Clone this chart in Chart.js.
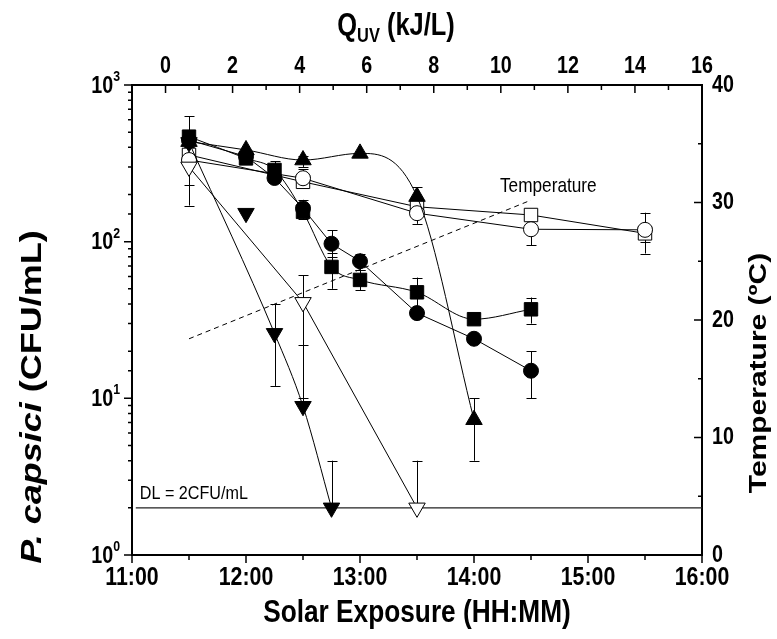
<!DOCTYPE html>
<html>
<head>
<meta charset="utf-8">
<script src="https://cdn.jsdelivr.net/npm/chart.js@4.4.1/dist/chart.umd.min.js"></script>
<style>
  html, body { margin: 0; padding: 0; background: #fff; }
  #wrap { width: 777px; height: 639px; }
</style>
</head>
<body>
<div id="wrap"><canvas id="chart" width="777" height="639"></canvas></div>
<script>
// Sampling times (HH:MM) and P. capsici counts (CFU/mL), error bars as [low, high]
const filledCircleTimes = ["11:30", "12:00", "12:15", "12:30", "12:45", "13:00", "13:30", "14:00", "14:30"];
const filledCircleValues = [445, 350, 255, 163, 97, 75, 35, 24, 15];
const filledCircleErrors = [[400, 630], null, null, [145, 185], [80, 118], [66, 84], null, null, [10, 20]];

const filledSquareTimes = ["11:30", "12:00", "12:15", "12:30", "12:45", "13:00", "13:30", "14:00", "14:30"];
const filledSquareValues = [468, 340, 287, 155, 69, 57, 47.5, 32, 37];
const filledSquareErrors = [null, null, [250, 325], [140, 175], [50, 85], [49, 66], [38, 59], null, [30, 44]];

const filledUpTimes = ["11:30", "12:00", "12:30", "13:00", "13:30", "14:00"];
const filledUpValues = [435, 385, 332, 366, 194, 7.3];
const filledUpErrors = [null, null, [300, 350], null, [170, 222], [4, 10]];

const filledDownTimes = ["11:30", "12:00", "12:15", "12:30", "12:45"];
const filledDownValues = [430, 152, 26, 8.9, 2];
const filledDownErrors = [null, null, [12, 40], [8.9, 22], [2, 4]];
const filledDownOnCurve = [true, false, true, true, true];

const openDownTimes = ["11:30", "12:30", "13:30"];
const openDownValues = [300, 41, 2];
const openDownErrors = [[170, 300], [10, 61], [2, 4]];

const openCircleTimes = ["11:30", "12:30", "13:30", "14:30", "15:30"];
const openCircleValues = [332, 254, 152, 120, 119];
const openCircleErrors = [null, [225, 290], [130, 175], [95, 120], [84, 153]];

const openSquareTimes = ["11:30", "12:30", "13:30", "14:30", "15:30"];
const openSquareValues = [358, 241, 167, 148, 113];
const openSquareErrors = [[230, 400], null, null, [120, 160], [100, 113]];

// Water temperature (ºC)
const temperatureTimes = ["11:30", "14:30"];
const temperatureValues = [18.4, 30.2];

// Detection limit (CFU/mL)
const dlValue = 2;
const dlTimes = ["11:02", "16:00"];

// Axis labels
const xTicksMajor = ["11:00", "12:00", "13:00", "14:00", "15:00", "16:00"];
const quvTicks = [0, 2, 4, 6, 8, 10, 12, 14, 16];
const tempTicks = [0, 10, 20, 30, 40];
const logTicks = [1, 10, 100, 1000];

const FONT = "'Liberation Sans', Arial, sans-serif";
const SX = 0.82; // text in the figure is horizontally condensed

function toHours(t) {
	const [h, m] = t.split(":").map(Number);
	return h + m / 60;
}

function points(times, values) {
	return times.map((t, i) => ({ x: toHours(t), y: values[i] }));
}

function series(label, times, values, errors, marker, extra) {
	return Object.assign({
		label: label,
		data: points(times, values),
		errorBars: errors,
		xAxisID: "x",
		yAxisID: "y",
		borderColor: "#000",
		borderWidth: 1,
		backgroundColor: marker.fill,
		pointStyle: marker.shape,
		pointRotation: marker.rotation || 0,
		pointRadius: marker.radius,
		pointHoverRadius: marker.radius,
		pointBackgroundColor: marker.fill,
		pointBorderColor: "#000",
		pointBorderWidth: 1,
		tension: 0,
		fill: false,
	}, extra || {});
}

const circleFilled = { shape: "circle", radius: 7.5, fill: "#000" };
const squareFilled = { shape: "rect", radius: 9.5, fill: "#000" };
const upFilled = { shape: "triangle", radius: 9.5, fill: "#000" };
const downFilled = { shape: "triangle", radius: 9.5, fill: "#000", rotation: 180 };
const downOpen = { shape: "triangle", radius: 9.5, fill: "#fff", rotation: 180 };
const circleOpen = { shape: "circle", radius: 7.5, fill: "#fff" };
const squareOpen = { shape: "rect", radius: 9.5, fill: "#fff" };

function drawText(ctx, text, x, y, font, align, baseline, sx) {
	ctx.save();
	ctx.translate(x, y);
	ctx.scale(sx, 1);
	ctx.font = font;
	ctx.textAlign = align;
	ctx.textBaseline = baseline;
	ctx.fillStyle = "#000";
	ctx.fillText(text, 0, 0);
	ctx.restore();
}

function textWidth(ctx, text, font, sx) {
	ctx.save();
	ctx.font = font;
	const w = ctx.measureText(text).width * sx;
	ctx.restore();
	return w;
}

// Error bars, drawn under the markers
const errorBarPlugin = {
	id: "errorBars",
	beforeDatasetsDraw(chart) {
		const ctx = chart.ctx;
		const xs = chart.scales.x;
		const ys = chart.scales.y;
		ctx.save();
		ctx.strokeStyle = "#000";
		ctx.lineWidth = 1;
		chart.data.datasets.forEach((ds) => {
			if (!ds.errorBars) return;
			ds.data.forEach((p, i) => {
				const e = ds.errorBars[i];
				if (!e) return;
				const px = Math.round(xs.getPixelForValue(p.x)) + 0.5;
				const lo = ys.getPixelForValue(e[0]);
				const hi = ys.getPixelForValue(e[1]);
				ctx.beginPath();
				ctx.moveTo(px, lo);
				ctx.lineTo(px, hi);
				ctx.moveTo(px - 5, Math.round(hi) + 0.5);
				ctx.lineTo(px + 5, Math.round(hi) + 0.5);
				if (e[0] < p.y) {
					ctx.moveTo(px - 5, Math.round(lo) + 0.5);
					ctx.lineTo(px + 5, Math.round(lo) + 0.5);
				}
				ctx.stroke();
			});
		});
		ctx.restore();
	},
};

// Tick marks, labels, titles and notes
const decorPlugin = {
	id: "decor",
	afterDraw(chart) {
		const ctx = chart.ctx;
		const { x, x2, y, yT } = chart.scales;
		const area = chart.chartArea;

		ctx.save();
		ctx.strokeStyle = "#000";
		ctx.lineWidth = 1.5;
		ctx.beginPath();
		// bottom, outward
		x.ticks.forEach((t) => {
			const px = x.getPixelForValue(t.value);
			const len = Number.isInteger(t.value) ? 8 : 5;
			ctx.moveTo(px, area.bottom);
			ctx.lineTo(px, area.bottom + len);
		});
		// top, inward
		x2.ticks.forEach((t) => {
			if (t.value < 0) return;
			const px = x2.getPixelForValue(t.value);
			const len = t.value % 2 === 0 ? 8 : 5;
			ctx.moveTo(px, area.top);
			ctx.lineTo(px, area.top + len);
		});
		// left, outward
		y.ticks.forEach((t) => {
			const py = y.getPixelForValue(t.value);
			const lg = Math.log10(t.value);
			const len = Math.abs(lg - Math.round(lg)) < 1e-9 ? 8 : 4;
			ctx.moveTo(area.left, py);
			ctx.lineTo(area.left - len, py);
		});
		// right, inward
		yT.ticks.forEach((t) => {
			const py = yT.getPixelForValue(t.value);
			const len = t.value % 10 === 0 ? 8 : 4;
			ctx.moveTo(area.right, py);
			ctx.lineTo(area.right - len, py);
		});
		ctx.stroke();
		ctx.restore();

		// tick labels
		xTicksMajor.forEach((lab) => {
			drawText(ctx, lab, x.getPixelForValue(toHours(lab)), area.bottom + 23, "bold 26px " + FONT, "center", "middle", SX);
		});
		quvTicks.forEach((v) => {
			drawText(ctx, String(v), x2.getPixelForValue(v), area.top - 19, "bold 24px " + FONT, "center", "middle", SX);
		});
		tempTicks.forEach((v) => {
			drawText(ctx, String(v), area.right + 10, yT.getPixelForValue(v), "bold 24px " + FONT, "left", "middle", SX);
		});
		const expFont = "bold 15px " + FONT;
		logTicks.forEach((v) => {
			const py = y.getPixelForValue(v);
			const exp = String(Math.round(Math.log10(v)));
			const right = area.left - 12;
			const expW = textWidth(ctx, exp, expFont, SX);
			drawText(ctx, exp, right - expW, py - 4, expFont, "left", "alphabetic", SX);
			drawText(ctx, "10", right - expW, py + 1, "bold 24px " + FONT, "right", "middle", SX);
		});

		// bottom title
		drawText(ctx, "Solar Exposure (HH:MM)", (area.left + area.right) / 2, 613, "bold 32px " + FONT, "center", "middle", SX);

		// top title with subscript
		const big = "bold 31px " + FONT;
		const small = "bold 20px " + FONT;
		const wQ = textWidth(ctx, "Q", big, SX);
		const wSub = textWidth(ctx, "UV", small, SX);
		const wRest = textWidth(ctx, " (kJ/L)", big, SX);
		let tx = 396 - (wQ + wSub + wRest) / 2;
		drawText(ctx, "Q", tx, 35, big, "left", "alphabetic", SX);
		tx += wQ;
		drawText(ctx, "UV", tx, 42, small, "left", "alphabetic", SX);
		tx += wSub;
		drawText(ctx, " (kJ/L)", tx, 35, big, "left", "alphabetic", SX);

		// left title, rotated, italic genus name
		ctx.save();
		ctx.translate(33, 397);
		ctx.scale(SX, 1);
		ctx.rotate(-Math.PI / 2);
		ctx.fillStyle = "#000";
		ctx.textBaseline = "middle";
		ctx.textAlign = "left";
		const it = "italic bold 36px " + FONT;
		const bd = "bold 36px " + FONT;
		ctx.font = it;
		const w1 = ctx.measureText("P. capsici").width;
		ctx.font = bd;
		const w2 = ctx.measureText(" (CFU/mL)").width;
		ctx.font = it;
		ctx.fillText("P. capsici", -(w1 + w2) / 2, 0);
		ctx.font = bd;
		ctx.fillText(" (CFU/mL)", -(w1 + w2) / 2 + w1, 0);
		ctx.restore();

		// right title, rotated
		ctx.save();
		ctx.translate(759, 373);
		ctx.scale(SX, 1);
		ctx.rotate(-Math.PI / 2);
		ctx.fillStyle = "#000";
		ctx.font = "bold 30px " + FONT;
		ctx.textAlign = "center";
		ctx.textBaseline = "middle";
		ctx.fillText("Temperature (ºC)", 0, 0);
		ctx.restore();

		// notes
		const lastT = temperatureTimes.length - 1;
		const tEndX = x.getPixelForValue(toHours(temperatureTimes[lastT]));
		const tEndY = yT.getPixelForValue(temperatureValues[lastT]);
		drawText(ctx, "Temperature", tEndX - 31, tEndY - 8, "21px " + FONT, "left", "alphabetic", SX);
		drawText(ctx, "DL = 2CFU/mL", x.getPixelForValue(toHours(dlTimes[0])) + 4, y.getPixelForValue(dlValue) - 9, "19px " + FONT, "left", "alphabetic", 0.85);
	},
};

const axisBorder = { display: true, color: "#000", width: 2 };

const datasets = [
	series("Filled circles", filledCircleTimes, filledCircleValues, filledCircleErrors, circleFilled),
	series("Filled squares", filledSquareTimes, filledSquareValues, filledSquareErrors, squareFilled, { cubicInterpolationMode: "monotone" }),
	series("Filled up triangles", filledUpTimes, filledUpValues, filledUpErrors, upFilled, { cubicInterpolationMode: "monotone" }),
	series("Filled down triangles", filledDownTimes, filledDownValues, filledDownErrors, downFilled, { showLine: false }),
	series("Filled down triangles curve",
		filledDownTimes.filter((t, i) => filledDownOnCurve[i]),
		filledDownValues.filter((v, i) => filledDownOnCurve[i]),
		null, { shape: "circle", radius: 0, fill: "#000" }, { cubicInterpolationMode: "monotone" }),
	series("Open down triangles", openDownTimes, openDownValues, openDownErrors, downOpen),
	series("Open circles", openCircleTimes, openCircleValues, openCircleErrors, circleOpen),
	series("Open squares", openSquareTimes, openSquareValues, openSquareErrors, squareOpen),
	{
		label: "Temperature",
		data: points(temperatureTimes, temperatureValues),
		xAxisID: "x",
		yAxisID: "yT",
		borderColor: "#000",
		borderWidth: 1,
		borderDash: [5, 4],
		pointRadius: 0,
		fill: false,
	},
	{
		label: "DL",
		data: dlTimes.map((t) => ({ x: toHours(t), y: dlValue })),
		xAxisID: "x",
		yAxisID: "y",
		borderColor: "#222",
		borderWidth: 1.3,
		pointRadius: 0,
		fill: false,
	},
];

new Chart(document.getElementById("chart").getContext("2d"), {
	type: "line",
	data: { datasets: datasets },
	options: {
		responsive: false,
		animation: false,
		devicePixelRatio: 1,
		layout: { padding: 0 },
		plugins: { legend: { display: false }, tooltip: { enabled: false } },
		scales: {
			x: {
				type: "linear", position: "bottom", min: 11, max: 16,
				ticks: { display: false, stepSize: 0.5, autoSkip: false },
				grid: { display: false, drawTicks: false },
				border: axisBorder,
				afterFit: (s) => { s.height = 84; },
			},
			x2: {
				type: "linear", position: "top", min: -1, max: 16,
				ticks: { display: false, stepSize: 1, autoSkip: false },
				grid: { display: false, drawTicks: false },
				border: axisBorder,
				afterFit: (s) => { s.height = 85; },
			},
			y: {
				type: "logarithmic", position: "left", min: 1, max: 1000,
				ticks: { display: false, autoSkip: false },
				grid: { display: false, drawTicks: false },
				border: axisBorder,
				afterFit: (s) => { s.width = 132; },
			},
			yT: {
				type: "linear", position: "right", min: 0, max: 40,
				ticks: { display: false, stepSize: 5, autoSkip: false },
				grid: { display: false, drawTicks: false },
				border: axisBorder,
				afterFit: (s) => { s.width = 75; },
			},
		},
	},
	plugins: [errorBarPlugin, decorPlugin],
});
</script>
</body>
</html>
